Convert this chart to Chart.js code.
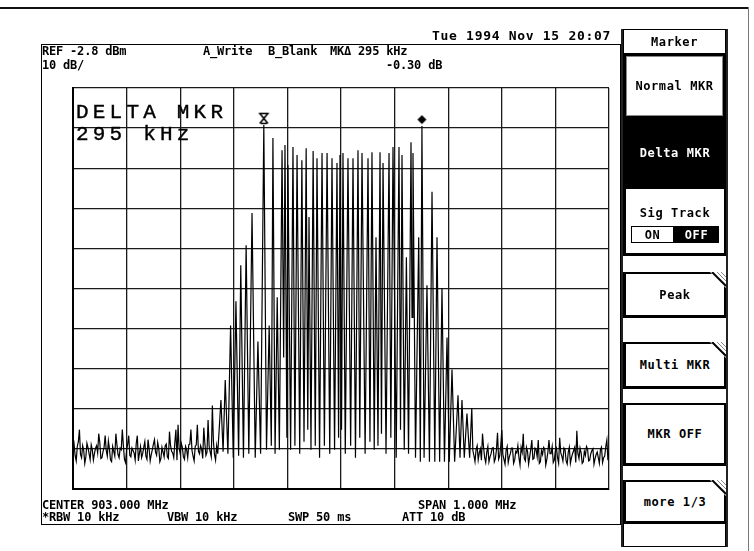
<!DOCTYPE html>
<html><head><meta charset="utf-8">
<script src="https://cdn.jsdelivr.net/npm/chart.js@4"></script>
<style>
body{margin:0;background:#fff;}
#wrap{position:relative;width:754px;height:551px;overflow:hidden;background:#fff;}
canvas{position:absolute;left:0;top:0;}
.t{position:absolute;font-family:"DejaVu Sans Mono",monospace;font-weight:bold;font-size:12px;line-height:12px;letter-spacing:-0.2px;color:#000;white-space:pre;}
.big{position:absolute;font-family:"Liberation Mono",monospace;font-size:21px;line-height:21px;letter-spacing:4.2px;color:#000;white-space:pre;-webkit-text-stroke:0.4px #000;}
.col{position:absolute;left:621px;top:29px;width:103px;height:516px;border-left:2px solid #222;border-right:2px solid #222;border-bottom:2px solid #222;}
.btn{position:absolute;left:623px;width:103px;box-sizing:border-box;border:2px solid #000;border-left:3px solid #000;border-bottom:3px solid #000;background:#fff;display:flex;align-items:center;justify-content:center;font-family:"DejaVu Sans Mono",monospace;font-weight:bold;font-size:12px;letter-spacing:0.6px;white-space:pre;color:#000;}
.notch{position:absolute;right:-2px;top:-2px;}
.frame{position:absolute;left:41px;top:44px;width:578px;height:479px;border:1.5px solid #000;}
</style></head><body>
<div id="wrap">
<div style="position:absolute;left:0;top:7px;width:749px;height:2px;background:#111;"></div>
<div style="position:absolute;left:748px;top:7px;width:1px;height:544px;background:#777;"></div>
<div class="frame"></div>
<canvas id="c" width="754" height="551"></canvas>

<div class="t" style="left:432px;top:28.5px;font-size:13px;line-height:13px;letter-spacing:0.7px;">Tue 1994 Nov 15 20:07</div>
<div class="t" style="left:42px;top:44.5px;">REF -2.8 dBm</div>
<div class="t" style="left:42px;top:58.5px;">10 dB/</div>
<div class="t" style="left:203px;top:44.5px;">A_Write</div>
<div class="t" style="left:268px;top:44.5px;">B_Blank</div>
<div class="t" style="left:330px;top:44.5px;">MKΔ 295 kHz</div>
<div class="t" style="left:386px;top:58.5px;">-0.30 dB</div>
<div class="big" style="left:76px;top:102px;">DELTA MKR</div>
<div class="big" style="left:76px;top:124px;">295 kHz</div>
<div class="t" style="left:42px;top:498.5px;">CENTER 903.000 MHz</div>
<div class="t" style="left:418px;top:498.5px;">SPAN 1.000 MHz</div>
<div class="t" style="left:42px;top:510.5px;">*RBW 10 kHz</div>
<div class="t" style="left:167px;top:510.5px;">VBW 10 kHz</div>
<div class="t" style="left:288px;top:510.5px;">SWP 50 ms</div>
<div class="t" style="left:402px;top:510.5px;">ATT 10 dB</div>

<div class="col"></div>
<div class="btn" style="top:29px;height:25px;border:1.5px solid #000;">Marker</div>
<div class="btn" style="top:53px;height:66px;border:3px solid #000;box-shadow:inset 0 0 0 1px #888;">Normal MKR</div>
<div class="btn" style="top:118px;height:70px;background:#000;color:#fff;border-color:#000;">Delta MKR</div>
<div class="btn" style="top:187px;height:69px;flex-direction:column;justify-content:flex-start;">
  <div style="margin-top:17px;">Sig Track</div>
  <div style="display:flex;margin-top:6px;">
    <div style="width:43px;height:17px;border:1.5px solid #000;box-sizing:border-box;display:flex;align-items:center;justify-content:center;">ON</div>
    <div style="width:45px;height:17px;background:#000;color:#fff;display:flex;align-items:center;justify-content:center;">OFF</div>
  </div>
</div>
<div class="btn" style="top:272px;height:46px;">Peak<svg class="notch" width="16" height="16"><polygon points="0,0 16,0 16,16" fill="#fff"/><line x1="2" y1="0" x2="16" y2="14" stroke="#000" stroke-width="2"/><line x1="7" y1="0" x2="16" y2="9" stroke="#888" stroke-width="1"/><line x1="11" y1="0" x2="16" y2="5" stroke="#888" stroke-width="1"/></svg></div>
<div class="btn" style="top:342px;height:47px;">Multi MKR<svg class="notch" width="16" height="16"><polygon points="0,0 16,0 16,16" fill="#fff"/><line x1="2" y1="0" x2="16" y2="14" stroke="#000" stroke-width="2"/><line x1="7" y1="0" x2="16" y2="9" stroke="#888" stroke-width="1"/><line x1="11" y1="0" x2="16" y2="5" stroke="#888" stroke-width="1"/></svg></div>
<div class="btn" style="top:403px;height:63px;">MKR OFF</div>
<div class="btn" style="top:480px;height:44px;">more 1/3<svg class="notch" width="16" height="16"><polygon points="0,0 16,0 16,16" fill="#fff"/><line x1="2" y1="0" x2="16" y2="14" stroke="#000" stroke-width="2"/><line x1="7" y1="0" x2="16" y2="9" stroke="#888" stroke-width="1"/><line x1="11" y1="0" x2="16" y2="5" stroke="#888" stroke-width="1"/></svg></div>
<div class="btn" style="top:523px;height:24px;border:1.5px solid #000;"></div>
</div>
<script>
// Trace values (dBm)
const noiseStepKHz = 2;
const noiseLeftStartKHz = -500;
const noiseLeftDbm = [-93.0,-91.6,-94.5,-95.8,-92.2,-91.0,-88.0,-94.2,-95.0,-92.0,-93.2,-96.4,-94.8,-91.4,-92.5,-94.0,-95.5,-91.8,-93.0,-95.6,-94.0,-92.6,-92.0,-93.8,-89.0,-91.2,-95.2,-95.0,-93.5,-92.4,-89.5,-93.2,-94.6,-90.8,-92.8,-95.6,-96.0,-92.2,-93.4,-94.6,-89.0,-91.8,-94.2,-95.0,-92.6,-93.0,-88.0,-92.0,-95.4,-96.2,-93.0,-91.6,-89.5,-94.4,-94.8,-92.6,-93.2,-93.8,-95.6,-91.4,-89.5,-95.8,-93.8,-92.2,-95.0,-94.0,-92.4,-91.0,-94.6,-95.4,-90.5,-92.8,-95.8,-94.2,-93.0,-91.6,-90.5,-93.6,-94.4,-91.2,-92.6,-96.0,-95.2,-92.4,-93.6,-94.8,-92.0,-91.6,-94.8,-95.2,-88.5,-92.0,-93.4,-93.8,-95.0,-91.2,-88.0,-95.6,-86.8,-92.6,-94.0,-91.4,-92.4,-94.8,-95.4,-92.2,-93.0,-95.0,-91.8,-91.6,-88.0,-93.2,-94.6,-95.8,-92.2,-91.8,-86.8,-93.4,-94.0,-92.0,-92.8,-95.2,-87.5,-91.4,-94.4,-93.6,-85.6,-92.2,-93.6,-94.8,-82.0,-91.0,-94.2,-95.6,-92.0];
const signalKHz = [-230,-224,-220,-216,-211,-206,-201,-196,-191,-187,-182,-177,-172,-166,-160,-155,-150,-144,-139,-134,-130,-127,-123,-119,-115,-110,-107,-104.5,-101,-99,-94,-89.6,-86,-82,-77,-73,-69,-65,-62,-59.7,-56,-52,-48,-44.8,-40,-35.4,-31,-26,-21,-16.8,-12,-7.5,-4.5,-1.9,1,3.7,8,13,18,22.4,27,31.7,35,39.2,45,50.4,54,57.8,62,65.3,69,72.8,75.5,78.4,84,89.6,93,97,103,108.2,111,113.8,118,122,126,130.6,132.5,134.3,139,145,148,151,155,160.4,165,169.8,175,179.1,184,188.4,193,197.8,202,207.1,212,218.3,222,225.7,230,235,240];
const signalDbm = [-94,-80.6,-93.5,-75.6,-94,-62,-95,-56,-94.5,-47,-95,-42,-94,-34,-95,-66,-94,-12.0,-93,-62,-92,-15.3,-94,-55,-93,-18.3,-70,-17,-90,-22,-93,-17.5,-92,-19.5,-94,-20.8,-91,-17.8,-88,-35,-93,-18.5,-92,-20.3,-95,-19,-92,-19,-94,-20.3,-93,-21.5,-90,-19.5,-88,-19,-94,-20.3,-92,-20.3,-95,-18.3,-90,-19,-94,-20.3,-91,-18.8,-93,-40,-92,-18.8,-89,-21.5,-94,-19,-90,-17.5,-95,-17.5,-88,-19.5,-93,-45,-94,-16.3,-60,-19,-95,-40,-96,-12.3,-95,-52,-96,-28.7,-96,-40,-96,-52.7,-96,-65,-96,-73,-96,-79.4,-95,-80.6,-95,-84,-95];
const noiseRightStartKHz = 244;
const noiseRightDbm = [-82.6,-93.2,-94.5,-96.0,-93.0,-92.0,-95.5,-93.8,-92.8,-95.6,-89.0,-92.4,-95.0,-96.2,-93.6,-92.2,-96.0,-94.8,-94.0,-92.6,-92.5,-96.0,-95.2,-93.0,-88.8,-95.4,-94.6,-92.0,-88.1,-94.2,-95.4,-96.6,-93.2,-92.2,-96.2,-94.8,-94.0,-92.6,-92.6,-96.4,-95.6,-93.4,-93.8,-92.0,-95.0,-96.8,-92.4,-93.6,-89.0,-95.2,-95.8,-92.4,-93.4,-96.6,-94.8,-93.0,-90.6,-95.4,-95.2,-92.6,-93.0,-94.8,-90.6,-96.4,-96.0,-93.2,-94.2,-92.4,-92.8,-96.8,-95.4,-93.6,-90.6,-94.0,-94.0,-92.2,-96.2,-95.6,-93.2,-92.6,-95.0,-96.4,-90.0,-93.8,-94.6,-95.8,-92.6,-93.0,-95.8,-96.6,-93.6,-92.4,-96.4,-95.0,-94.0,-93.2,-92.4,-96.2,-88.3,-94.0,-95.2,-92.6,-93.8,-96.4,-96.0,-93.4,-94.4,-92.2,-92.8,-95.8,-95.6,-94.0,-93.2,-92.8,-96.6,-95.2,-94.2,-93.6,-95.0,-96.4,-93.0,-92.4,-96.2,-95.0,-94.6,-92.2,-90.6,-95.6,-93.4];
// Markers (offset from center, kHz / dBm)
const markerKHz = [-144, 151];
const markerDbm = [-12.0, -12.3];
// Axis ticks (grid divisions)
const xTicksKHz = [-500,-400,-300,-200,-100,0,100,200,300,400,500];
const yTicksDbm = [-102.8,-92.8,-82.8,-72.8,-62.8,-52.8,-42.8,-32.8,-22.8,-12.8,-2.8];

const trace = [];
noiseLeftDbm.forEach((v,i)=>trace.push({x:noiseLeftStartKHz+i*noiseStepKHz,y:v}));
signalKHz.forEach((f,i)=>trace.push({x:f,y:signalDbm[i]}));
noiseRightDbm.forEach((v,i)=>trace.push({x:noiseRightStartKHz+i*noiseStepKHz,y:v}));
const markers = markerKHz.map((f,i)=>({x:f,y:markerDbm[i]}));

function glyphX(){const c=document.createElement('canvas');c.width=13;c.height=26;const g=c.getContext('2d');
 g.strokeStyle='#000';g.lineWidth=1.6;g.beginPath();
 g.moveTo(1.5,1.5);g.lineTo(11.5,1.5);g.moveTo(2.5,1.5);g.lineTo(10.5,11.5);g.moveTo(10.5,1.5);g.lineTo(2.5,11.5);g.moveTo(3.5,11.5);g.lineTo(9.5,11.5);g.stroke();return c;}
function glyphD(){const c=document.createElement('canvas');c.width=13;c.height=26;const g=c.getContext('2d');
 g.fillStyle='#000';g.beginPath();g.moveTo(6.5,2);g.lineTo(11,6.5);g.lineTo(6.5,11);g.lineTo(2,6.5);g.closePath();g.fill();return c;}

new Chart(document.getElementById('c'),{
 type:'scatter',
 data:{datasets:[
  {data:trace,showLine:true,borderColor:'#000',borderWidth:1.2,pointRadius:0,tension:0,fill:false},
  {data:markers,showLine:false,pointStyle:[glyphX(),glyphD()],pointRadius:6}
 ]},
 options:{
  responsive:false,animation:false,devicePixelRatio:1,
  layout:{padding:{left:73,top:88,right:145,bottom:62}},
  plugins:{legend:{display:false},tooltip:{enabled:false}},
  scales:{
   x:{type:'linear',min:-500,max:500,
      afterBuildTicks:s=>{s.ticks=xTicksKHz.map(v=>({value:v}));},
      ticks:{display:false},grid:{color:'#1a1a1a',lineWidth:1.3,drawTicks:false,tickLength:0},border:{display:true,color:'#000',width:2}},
   y:{type:'linear',min:-102.8,max:-2.8,
      afterBuildTicks:s=>{s.ticks=yTicksDbm.map(v=>({value:v}));},
      ticks:{display:false},grid:{color:'#1a1a1a',lineWidth:1.3,drawTicks:false,tickLength:0},border:{display:true,color:'#000',width:2}}
  }
 }
});
</script>
</body></html>
